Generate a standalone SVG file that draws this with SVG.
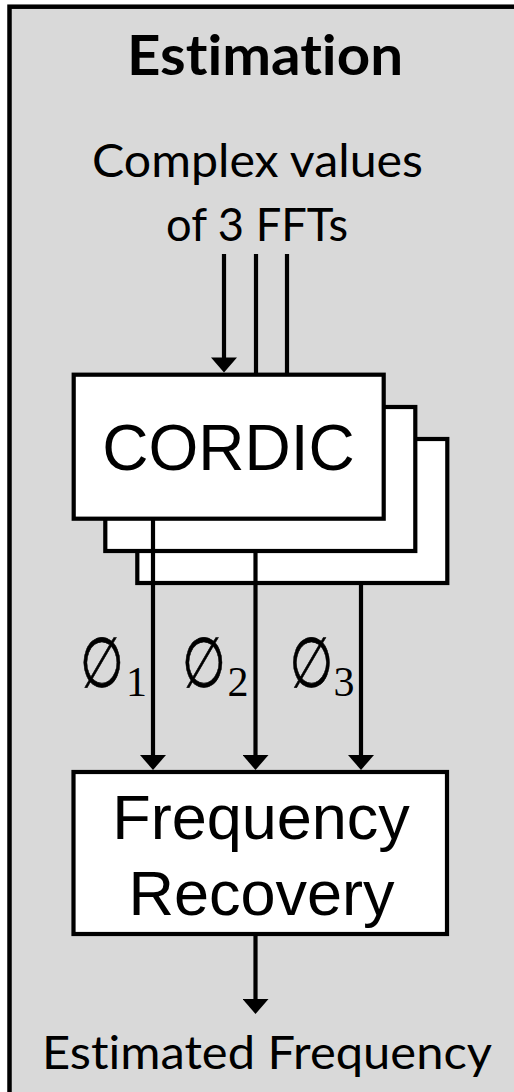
<svg xmlns="http://www.w3.org/2000/svg" width="514" height="1092" viewBox="0 0 514 1092">
<style>
.box{fill:#ffffff;stroke:#000000;stroke-width:4.2;stroke-linejoin:miter}
.wire{stroke:#000000;stroke-width:4.2;fill:none}
.cal{font-family:Lato,"Open Sans",sans-serif;fill:#000000;text-anchor:middle;font-variant-ligatures:none}
.ari{font-family:"Liberation Sans",Arial,sans-serif;fill:#000000;text-anchor:middle}
.phi{font-family:"DejaVu Sans",sans-serif;fill:#000000;text-anchor:middle;stroke:#000000;stroke-width:0.6}
.sub{font-family:"Liberation Serif",serif;fill:#000000;text-anchor:middle}
</style>
<defs>
<marker id="ah" markerUnits="userSpaceOnUse" markerWidth="16" markerHeight="26" viewBox="0 0 15 26" refX="3" refY="13" orient="auto">
<path d="M0,0 L15,13 L0,26 z" fill="#000000"/>
</marker>
</defs>
<g id="frame">
<rect x="9.5" y="6.7" width="520" height="1100" fill="#d9d9d9" stroke="#000000" stroke-width="4.5"/>
<text class="cal" x="265" y="75" font-size="56" font-weight="bold" textLength="276" lengthAdjust="spacingAndGlyphs">Estimation</text>
</g>
<g id="input-label">
<text class="cal" x="257.5" y="177" font-size="47" textLength="331" lengthAdjust="spacingAndGlyphs">Complex values</text>
<text class="cal" x="257" y="240.5" font-size="47" textLength="182" lengthAdjust="spacingAndGlyphs">of 3 FFTs</text>
</g>
<g id="cordic3"><rect class="box" x="137.3" y="439" width="310" height="144"/></g>
<g id="cordic2"><rect class="box" x="105.3" y="407" width="310" height="144"/></g>
<g id="cordic1">
<rect class="box" x="73.7" y="374.7" width="310" height="144"/>
<text class="ari" x="228.5" y="470" font-size="64">CORDIC</text>
</g>
<g id="freq-recovery">
<rect class="box" x="73.5" y="772" width="373.5" height="162"/>
<text class="ari" x="261" y="839" font-size="63">Frequency</text>
<text class="ari" x="261.5" y="915" font-size="63">Recovery</text>
</g>
<g id="output-label">
<text class="cal" x="267" y="1069" font-size="47" textLength="450" lengthAdjust="spacingAndGlyphs">Estimated Frequency</text>
</g>
<g id="connectors">
<line class="wire" x1="224" y1="254" x2="224" y2="360.5" marker-end="url(#ah)"/>
<line class="wire" x1="256" y1="254" x2="256" y2="374"/>
<line class="wire" x1="287" y1="254" x2="287" y2="374"/>
<line class="wire" x1="153" y1="518.7" x2="153" y2="758" marker-end="url(#ah)"/>
<line class="wire" x1="255.5" y1="551" x2="255.5" y2="758" marker-end="url(#ah)"/>
<line class="wire" x1="361" y1="583" x2="361" y2="758" marker-end="url(#ah)"/>
<line class="wire" x1="255.5" y1="934" x2="255.5" y2="1002" marker-end="url(#ah)"/>
</g>
<g id="phase-labels">
<text class="phi" transform="translate(102,687) scale(0.72,1)" x="0" y="0" font-size="70">∅</text>
<text class="sub" x="136.5" y="696" font-size="42">1</text>
<text class="phi" transform="translate(204,687) scale(0.72,1)" x="0" y="0" font-size="70">∅</text>
<text class="sub" x="238" y="696" font-size="42">2</text>
<text class="phi" transform="translate(311.5,687) scale(0.72,1)" x="0" y="0" font-size="70">∅</text>
<text class="sub" x="344" y="696" font-size="42">3</text>
</g>
</svg>
